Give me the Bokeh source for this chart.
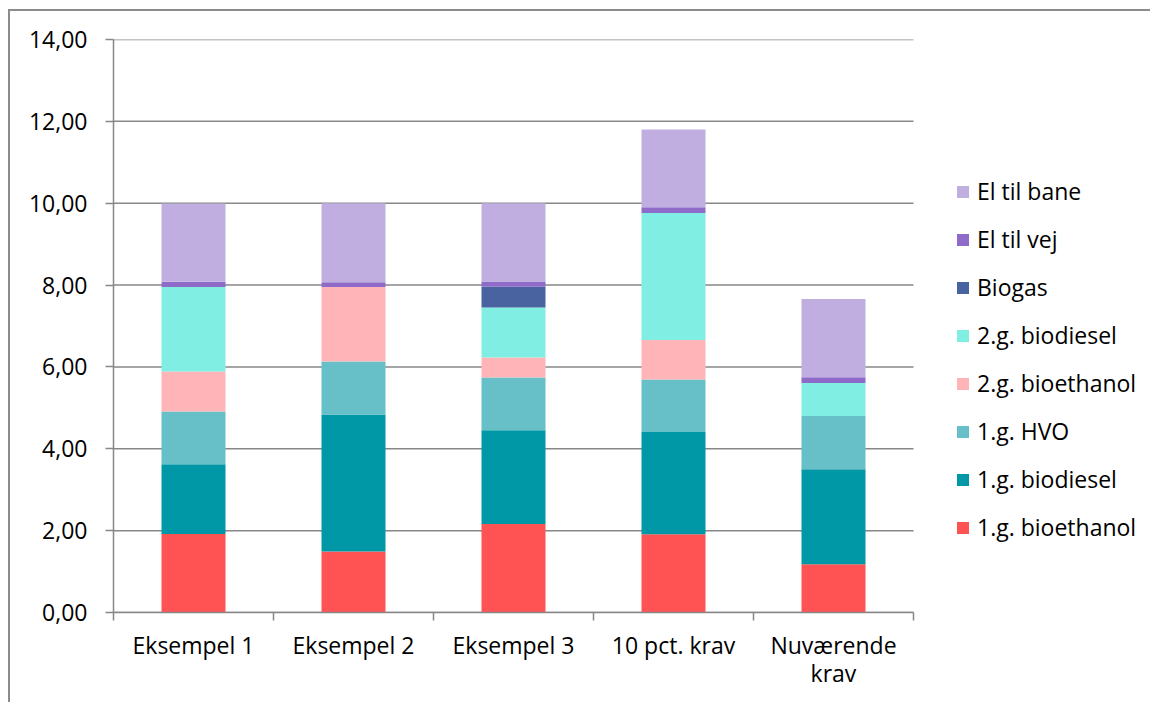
from bokeh.plotting import figure
from bokeh.models import Range1d, FixedTicker, Legend, LegendItem, ColumnDataSource
from bokeh.embed import file_html
from bokeh.resources import INLINE

categories = ["Eksempel 1", "Eksempel 2", "Eksempel 3", "10 pct. krav", "Nuværende\nkrav"]
series_names = ["1.g. bioethanol", "1.g. biodiesel", "1.g. HVO", "2.g. bioethanol",
                "2.g. biodiesel", "Biogas", "El til vej", "El til bane"]
bioethanol_1g = [1.92, 1.49, 2.16, 1.91, 1.18]
biodiesel_1g = [1.70, 3.35, 2.29, 2.50, 2.32]
hvo_1g = [1.29, 1.29, 1.29, 1.28, 1.30]
bioethanol_2g = [0.98, 1.82, 0.49, 0.97, 0.00]
biodiesel_2g = [2.06, 0.00, 1.22, 3.10, 0.81]
biogas = [0.00, 0.00, 0.51, 0.00, 0.00]
el_vej = [0.13, 0.12, 0.13, 0.14, 0.14]
el_bane = [1.91, 1.93, 1.91, 1.90, 1.91]
colors = ["#FF5353", "#0098A7", "#67C0C8", "#FFB5B7", "#80EEE3", "#4863A0", "#8E6BC8", "#BFAEDF"]
y_ticks = [0, 2, 4, 6, 8, 10, 12, 14]
y_labels = ["0,00", "2,00", "4,00", "6,00", "8,00", "10,00", "12,00", "14,00"]

FONT = "Open Sans"
GRID = "#878787"

FIG_W, FIG_H = 1142, 693
LEFT, TOP, BOTTOM = 103, 28, 92
PLOT_AREA_W = 800          # pixels used by the categories
frame_w = FIG_W - LEFT
n = len(categories)

keys = ["s%d" % i for i in range(len(series_names))]
xpos = [i + 0.5 for i in range(n)]
data = {"x": xpos}
for k, vals in zip(keys, [bioethanol_1g, biodiesel_1g, hvo_1g, bioethanol_2g,
                          biodiesel_2g, biogas, el_vej, el_bane]):
    data[k] = vals
src = ColumnDataSource(data)

p = figure(width=FIG_W, height=FIG_H, output_backend="svg", toolbar_location=None,
           x_range=Range1d(0, n * frame_w / PLOT_AREA_W), y_range=Range1d(0, 14),
           min_border_left=LEFT, min_border_right=0, min_border_top=TOP,
           min_border_bottom=BOTTOM)
p.styles = {"margin-left": "8px", "margin-top": "9px",
            "border-left": "2px solid #8c8c8c", "border-top": "2px solid #8c8c8c"}
p.outline_line_color = None
p.background_fill_color = "white"
p.border_fill_color = "white"
p.xgrid.visible = False
p.ygrid.visible = False

# horizontal gridlines limited to the category area
p.segment(x0=[0] * len(y_ticks), x1=[n] * len(y_ticks), y0=y_ticks, y1=y_ticks,
          line_color=GRID, line_width=1.5)

renderers = p.vbar_stack(keys, x="x", width=0.4, source=src, color=colors, line_color=None)

# y axis
ya = p.yaxis[0]
ya.ticker = FixedTicker(ticks=y_ticks)
ya.major_label_overrides = {t: l for t, l in zip(y_ticks, y_labels)}
ya.axis_line_color = GRID
ya.axis_line_width = 1.5
ya.major_tick_line_color = GRID
ya.major_tick_line_width = 1.5
ya.major_tick_in = 0
ya.major_tick_out = 8
ya.minor_tick_line_color = None
ya.major_label_standoff = 18
ya.major_label_text_font = FONT
ya.major_label_text_font_size = "23px"
ya.major_label_text_color = "#000000"

# x axis: labels at centres, ticks at category boundaries
xa = p.xaxis[0]
xa.bounds = (0, n)
xa.ticker = FixedTicker(ticks=xpos, minor_ticks=list(range(n + 1)))
xa.major_label_overrides = {x: c for x, c in zip(xpos, categories)}
xa.axis_line_color = GRID
xa.axis_line_width = 1.5
xa.major_tick_line_color = None
xa.major_tick_in = 0
xa.major_tick_out = 0
xa.minor_tick_line_color = GRID
xa.minor_tick_line_width = 1.5
xa.minor_tick_in = 0
xa.minor_tick_out = 8
xa.major_label_standoff = 8
xa.major_label_text_font = FONT
xa.major_label_text_font_size = "23px"
xa.major_label_text_line_height = 0.9
xa.major_label_text_color = "#000000"

# legend (reverse order)
items = [LegendItem(label=s, renderers=[r]) for s, r in zip(series_names, renderers)][::-1]
legend = Legend(items=items, location=(PLOT_AREA_W + 42, 69), padding=0, margin=0,
                glyph_width=15, glyph_height=15, label_height=30, spacing=16,
                label_standoff=7, label_text_font=FONT, label_text_font_size="23px",
                label_text_color="#000000", border_line_color=None,
                background_fill_alpha=0)
p.add_layout(legend)

open("out.html", "w").write(file_html(p, INLINE))
